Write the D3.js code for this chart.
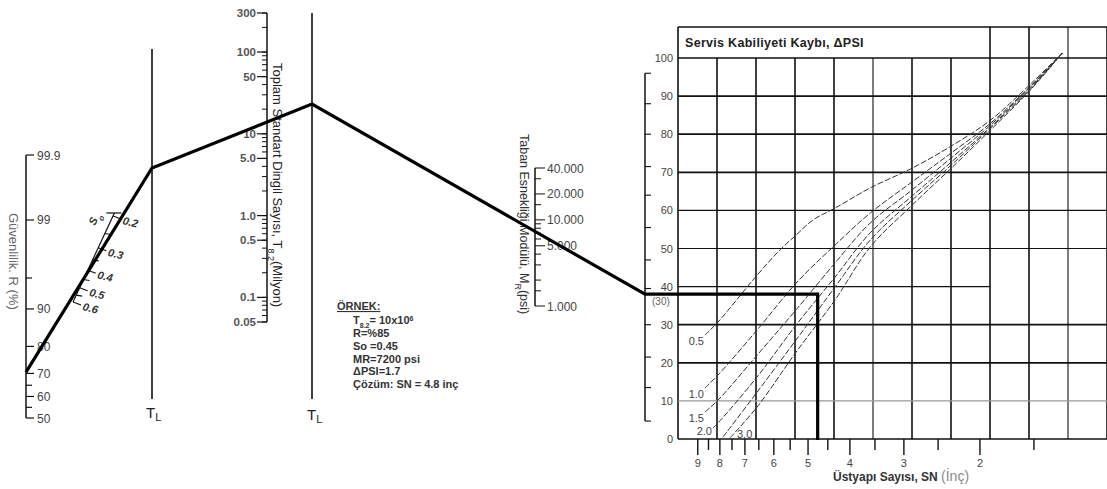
<!DOCTYPE html>
<html>
<head>
<meta charset="utf-8">
<script src="https://cdn.jsdelivr.net/npm/d3@7"></script>
<style>
  body { margin: 0; background: #fff; }
  text { font-family: "Liberation Sans", Arial, sans-serif; }
</style>
</head>
<body>
<svg id="chart" width="1107" height="489"></svg>
<script>
const rTicks = [99.9, 99, 95, 90, 80, 70, 65, 60, 55, 50];
const rLabels = [99.9, 99, 90, 80, 70, 60, 50];
const soMajor = [0.2, 0.3, 0.4, 0.5, 0.6];
const soMinor = [0.25, 0.35, 0.45, 0.55];
const esalLabels = [300, 100, 50, 10, 5, 1, 0.5, 0.1, 0.05];
const esalText = ["300", "100", "50", "10", "5.0", "1.0", "0.5", "0.1", "0.05"];
const mrTicks = [1000, 1500, 2000, 3000, 4000, 5000, 6000, 7000, 8000, 9000, 10000, 15000, 20000, 30000, 40000];
const mrLabels = [40000, 20000, 10000, 5000, 1000];
const mrText = ["40.000", "20.000", "10.000", "5.000", "1.000"];
const yTicks = [0, 10, 20, 30, 40, 50, 60, 70, 80, 90, 100];
const pivotTicks = [96, 88, 80, 71.5, 64, 55.5, 47, 39.5, 30, 21.5, 13.5, 4.7];
const snMajor = [9, 8, 7, 6, 5, 4, 3, 2, 1];
const snLabels = [9, 8, 7, 6, 5, 4, 3, 2];
const snMinor = [8.5, 7.5, 6.5, 5.5, 4.5, 3.5, 2.5, 1.5];

// design serviceability loss curves: [SN, chart value]
const psiLevels = ["0.5", "1.0", "1.5", "2.0", "2.5", "3.0"];
const curve05 = [[8.66,27.3],[8.08,30.7],[6.56,43],[5.81,49.6],[5.33,53.5],[4.87,57.5],[4.33,60.6],[3.59,65.9],[2.87,71.1],[2.33,76.9],[1.89,83.7],[1.52,93.4],[1.29,101.3]];
const curve10 = [[8.66,13.4],[8.08,16.8],[6.56,28.6],[5.33,40.9],[4.33,50.9],[3.59,59.3],[2.87,67.5],[2.33,75.1],[1.89,82.9],[1.52,92.9],[1.29,101.3]];
const curve15 = [[8.66,7.1],[8.08,10.2],[6.56,22],[5.33,33.9],[4.33,46.2],[3.59,56.7],[2.87,65.4],[2.33,73.8],[1.89,82.4],[1.52,92.7],[1.29,101.3]];
const curve20 = [[8.30,2.9],[8.08,4.2],[6.56,16.3],[5.33,29.9],[4.33,42.5],[3.59,54.1],[2.87,63.8],[2.33,72.7],[1.89,81.9],[1.52,92.4],[1.29,101.3]];
const curve25 = [[7.87,0.5],[6.56,12.3],[5.33,26],[4.33,39.9],[3.59,52.2],[2.87,62.7],[2.33,71.9],[1.89,81.6],[1.52,92.1],[1.29,101.3]];
const curve30 = [[7.58,0.3],[6.56,8.4],[5.33,22.8],[4.33,36.5],[3.59,50.4],[2.87,61.4],[2.33,71.1],[1.89,81.1],[1.52,91.9],[1.29,101.3]];
const psiCurves = [curve05, curve10, curve15, curve20, curve25, curve30];

// worked example path
const solR = 70.5, solTL1 = 3.82, solTL2 = 23.1, solPivot = 38, solSN = 4.75;
const exampleLines = ["R=%85", "So =0.45", "MR=7200 psi", "\u0394PSI=1.7", "\u00c7\u00f6z\u00fcm: SN = 4.8 in\u00e7"];

const svg = d3.select("#chart");
const ink = "#111";

// normal quantile for the reliability scale
function probit(p) {
    const q = p < 0.5 ? p : 1 - p;
    const t = Math.sqrt(-2 * Math.log(q));
    const z = t - (2.515517 + 0.802853 * t + 0.010328 * t * t) /
        (1 + 1.432788 * t + 0.189269 * t * t + 0.001308 * t * t * t);
    return p < 0.5 ? -z : z;
}

// ---- scales ----
const rX = 26, tl1X = 152, esalX = 267, tl2X = 312, mrX = 535, pivotX = 645;
const zScale = d3.scaleLinear().domain([0, probit(0.999)]).range([418, 155]);
const rY = v => zScale(probit(v / 100));
const esal = d3.scaleLog().domain([0.05, 300]).range([322, 13]);
const mr = d3.scaleLog().domain([1000, 40000]).range([306, 168]);
const xS = d3.scaleLog().domain([10, 1]).range([678, 1110]);
const yS = d3.scaleLinear().domain([0, 100]).range([439, 58]);
const gridX = d3.scaleLinear().domain([0, 11]).range([678, 1107]);

// ---- reliability R ----
const gR = svg.append("g");
gR.append("line").attr("x1", rX).attr("x2", rX).attr("y1", rY(99.9)).attr("y2", rY(50))
    .attr("stroke", ink).attr("stroke-width", 1.5);
gR.selectAll(".rt").data(rTicks).enter().append("line")
    .attr("x1", rX).attr("x2", d => rLabels.includes(d) ? rX + 8 : rX + 6)
    .attr("y1", d => rY(d)).attr("y2", d => rY(d))
    .attr("stroke", ink).attr("stroke-width", 1.2);
gR.selectAll(".rl").data(rLabels).enter().append("text")
    .attr("x", rX + 11).attr("y", d => rY(d) + 4.5)
    .attr("font-size", 12).attr("fill", "#444")
    .text(d => d);
gR.append("text").attr("transform", "translate(9,213) rotate(90)")
    .attr("font-size", 13).attr("fill", "#666")
    .text("Güvenlilik. R (%)");

// ---- standard deviation So (log spacing along a slanted line) ----
const soA = [113, 216], soB = [73, 302];
const soT = d3.scaleLog().domain([0.2, 0.6]).range([0, 1]);
const soPt = v => [soA[0] + (soB[0] - soA[0]) * soT(v), soA[1] + (soB[1] - soA[1]) * soT(v)];
const gSo = svg.append("g");
const soTop = [soA[0] - (soB[0] - soA[0]) * 0.035, soA[1] - (soB[1] - soA[1]) * 0.035];
gSo.append("line").attr("x1", soTop[0]).attr("y1", soTop[1]).attr("x2", soB[0]).attr("y2", soB[1])
    .attr("stroke", ink).attr("stroke-width", 1.2);
gSo.append("line").attr("x1", soTop[0] - 8).attr("y1", soTop[1]).attr("x2", soTop[0] + 7).attr("y2", soTop[1])
    .attr("stroke", ink).attr("stroke-width", 1.2);
gSo.selectAll(".sm").data(soMinor).enter().append("line")
    .attr("x1", d => soPt(d)[0]).attr("y1", d => soPt(d)[1])
    .attr("x2", d => soPt(d)[0] + 6).attr("y2", d => soPt(d)[1] + 1)
    .attr("stroke", ink).attr("stroke-width", 1.2);
gSo.selectAll(".sM").data(soMajor).enter().append("line")
    .attr("x1", d => soPt(d)[0]).attr("y1", d => soPt(d)[1])
    .attr("x2", d => soPt(d)[0] + 8).attr("y2", d => soPt(d)[1] + 3)
    .attr("stroke", ink).attr("stroke-width", 1.2);
gSo.selectAll(".sl").data(soMajor).enter().append("text")
    .attr("transform", d => `translate(${soPt(d)[0] + 9},${soPt(d)[1] + 8}) rotate(14)`)
    .attr("font-size", 11).attr("font-weight", "bold").attr("font-style", "italic").attr("fill", "#333")
    .text(d => d.toFixed(1));
const soLab = gSo.append("text").attr("transform", `translate(${soA[0] - 18},${soA[1] + 10}) rotate(-65)`)
    .attr("font-size", 11).attr("font-weight", "bold").attr("font-style", "italic").attr("fill", "#333");
soLab.append("tspan").text("S");
soLab.append("tspan").attr("baseline-shift", "sub").attr("font-size", 8).text("o");

// ---- turning lines TL ----
const gTL = svg.append("g");
[[tl1X, 49, 146, 418], [tl2X, 13, 307, 420]].forEach(([x, top, lx, ly]) => {
    gTL.append("line").attr("x1", x).attr("x2", x).attr("y1", top).attr("y2", 399)
        .attr("stroke", ink).attr("stroke-width", 1.6);
    const t = gTL.append("text").attr("x", lx).attr("y", ly).attr("font-size", 15).attr("fill", "#222");
    t.append("tspan").text("T");
    t.append("tspan").attr("dy", 3).attr("font-size", 11).text("L");
});

// ---- ESAL scale ----
const gE = svg.append("g");
gE.append("line").attr("x1", esalX).attr("x2", esalX).attr("y1", esal(300)).attr("y2", esal(0.05))
    .attr("stroke", ink).attr("stroke-width", 1.5);
gE.selectAll(".em").data(esal.ticks()).enter().append("line")
    .attr("x1", esalX).attr("x2", esalX - 5)
    .attr("y1", d => esal(d)).attr("y2", d => esal(d))
    .attr("stroke", ink).attr("stroke-width", 1);
gE.selectAll(".eM").data(esalLabels).enter().append("line")
    .attr("x1", esalX).attr("x2", esalX - 10)
    .attr("y1", d => esal(d)).attr("y2", d => esal(d))
    .attr("stroke", ink).attr("stroke-width", 1.2);
gE.selectAll(".el").data(esalLabels).enter().append("text")
    .attr("x", esalX - 11).attr("y", d => esal(d) + 4).attr("text-anchor", "end")
    .attr("font-size", 11.5).attr("font-weight", "bold").attr("fill", "#555")
    .text((d, i) => esalText[i]);
const eT = gE.append("text").attr("transform", "translate(273,63) rotate(90)")
    .attr("font-size", 13).attr("fill", "#222");
eT.append("tspan").text("Toplam Standart Dingil Sayısı, T");
eT.append("tspan").attr("baseline-shift", "sub").attr("font-size", 9).text("8.2");
eT.append("tspan").text("(Milyon)");

// ---- example box ----
const gX = svg.append("g").attr("fill", "#333").attr("font-size", 11).attr("font-weight", "bold");
gX.append("text").attr("x", 337).attr("y", 310).attr("text-decoration", "underline").text("ÖRNEK:");
const tLine = gX.append("text").attr("x", 353).attr("y", 324);
tLine.append("tspan").text("T");
tLine.append("tspan").attr("baseline-shift", "sub").attr("font-size", 7).text("8.2");
tLine.append("tspan").text("= 10x10");
tLine.append("tspan").attr("baseline-shift", "super").attr("font-size", 7).text("6");
gX.selectAll(".ex").data(exampleLines).enter().append("text")
    .attr("x", 353).attr("y", (d, i) => 337 + i * 12.8)
    .text(d => d);

// ---- resilient modulus MR ----
const gM = svg.append("g");
gM.append("line").attr("x1", mrX).attr("x2", mrX).attr("y1", mr(40000)).attr("y2", mr(1000))
    .attr("stroke", ink).attr("stroke-width", 1.5);
gM.selectAll(".mt").data(mrTicks).enter().append("line")
    .attr("x1", mrX).attr("x2", d => mrLabels.includes(d) ? mrX + 10 : mrX + 6)
    .attr("y1", d => mr(d)).attr("y2", d => mr(d))
    .attr("stroke", ink).attr("stroke-width", 1);
gM.selectAll(".ml").data(mrLabels).enter().append("text")
    .attr("x", mrX + 12).attr("y", d => mr(d) + 4.5)
    .attr("font-size", 12).attr("fill", "#444")
    .text((d, i) => mrText[i]);
const mT = gM.append("text").attr("transform", "translate(520,134) rotate(90)")
    .attr("font-size", 12.5).attr("fill", "#333");
mT.append("tspan").text("Taban Esnekliği Modülü, M");
mT.append("tspan").attr("baseline-shift", "sub").attr("font-size", 9).text("R");
mT.append("tspan").text("(psi)");

// ---- design chart grid ----
const gG = svg.append("g");
gG.append("line").attr("x1", gridX(0)).attr("x2", gridX(11)).attr("y1", 27).attr("y2", 27)
    .attr("stroke", ink).attr("stroke-width", 1.6);
gG.selectAll(".vg").data(d3.range(0, 12)).enter().append("line")
    .attr("x1", d => gridX(d)).attr("x2", d => gridX(d))
    .attr("y1", d => (d === 0 || d >= 8) ? 27 : yS(100)).attr("y2", yS(0))
    .attr("stroke", ink).attr("stroke-width", d => (d === 5 || d === 10) ? 1.1 : 1.6);
gG.selectAll(".hg").data(yTicks).enter().append("line")
    .attr("x1", gridX(0)).attr("x2", d => d === 40 ? gridX(8) : gridX(11))
    .attr("y1", d => yS(d)).attr("y2", d => yS(d))
    .attr("stroke", d => d === 10 ? "#999" : ink)
    .attr("stroke-width", d => [0, 20, 30, 70, 80, 90, 100].includes(d) ? 1.7 : 1.1);
gG.append("text").attr("x", 685).attr("y", 47)
    .attr("font-size", 12.5).attr("font-weight", "bold").attr("fill", "#222")
    .attr("letter-spacing", 0.3)
    .text("Servis Kabiliyeti Kaybı, ΔPSI");

// y labels and pivot axis
gG.selectAll(".yl").data(yTicks).enter().append("text")
    .attr("x", 673).attr("y", d => yS(d) + 4).attr("text-anchor", "end")
    .attr("font-size", 11).attr("fill", "#444")
    .text(d => d);
gG.append("text").attr("x", 652).attr("y", 305).attr("font-size", 10).attr("fill", "#666").text("(30)");
gG.append("line").attr("x1", pivotX).attr("x2", pivotX).attr("y1", yS(96)).attr("y2", yS(4.7))
    .attr("stroke", ink).attr("stroke-width", 1.5);
gG.selectAll(".pt").data(pivotTicks).enter().append("line")
    .attr("x1", pivotX).attr("x2", pivotX + 6)
    .attr("y1", d => yS(d)).attr("y2", d => yS(d))
    .attr("stroke", ink).attr("stroke-width", 1.1);

// SN axis
gG.selectAll(".sM").data(snMajor).enter().append("line")
    .attr("x1", d => xS(d)).attr("x2", d => xS(d)).attr("y1", yS(0)).attr("y2", yS(0) + 16)
    .attr("stroke", ink).attr("stroke-width", 1.4);
gG.selectAll(".sm").data(snMinor).enter().append("line")
    .attr("x1", d => xS(d)).attr("x2", d => xS(d)).attr("y1", yS(0)).attr("y2", yS(0) + 11)
    .attr("stroke", ink).attr("stroke-width", 1.4);
gG.selectAll(".sl").data(snLabels).enter().append("text")
    .attr("x", d => xS(d)).attr("y", 467).attr("text-anchor", "middle")
    .attr("font-size", 11).attr("fill", "#444")
    .text(d => d);
const snT = gG.append("text").attr("x", 833).attr("y", 481);
snT.append("tspan").attr("font-size", 12).attr("font-weight", "bold").attr("fill", "#333").text("Üstyapı Sayısı, SN ");
snT.append("tspan").attr("font-size", 14).attr("fill", "#888").text("(İnç)");

// ---- PSI curves ----
const curveLine = d3.line().x(d => xS(d[0])).y(d => yS(d[1])).curve(d3.curveCatmullRom);
const gC = svg.append("g");
gC.selectAll(".cv").data(psiCurves).enter().append("path")
    .attr("d", curveLine).attr("fill", "none")
    .attr("stroke", "#333").attr("stroke-width", 1).attr("stroke-dasharray", "6,2");
psiLevels.forEach((lab, i) => {
    if (lab === "2.5") return;
    const s = psiCurves[i][0];
    const sx = xS(s[0]), sy = yS(s[1]);
    const t = gC.append("text").attr("font-size", 11).attr("fill", "#444").text(lab);
    if (lab === "3.0") t.attr("x", sx + 7).attr("y", yS(0) - 1);
    else t.attr("x", sx - 1).attr("y", Math.min(sy + 10, 435)).attr("text-anchor", "end");
});

// ---- solution line ----
const solPts = [
    [rX, rY(solR)],
    [tl1X, esal(solTL1)],
    [tl2X, esal(solTL2)],
    [pivotX, yS(solPivot)],
    [xS(solSN), yS(solPivot)],
    [xS(solSN), yS(0) + 1]
];
svg.append("path").attr("d", d3.line()(solPts))
    .attr("fill", "none").attr("stroke", "#000").attr("stroke-width", 3.2)
    .attr("stroke-linejoin", "miter");
</script>
</body>
</html>
